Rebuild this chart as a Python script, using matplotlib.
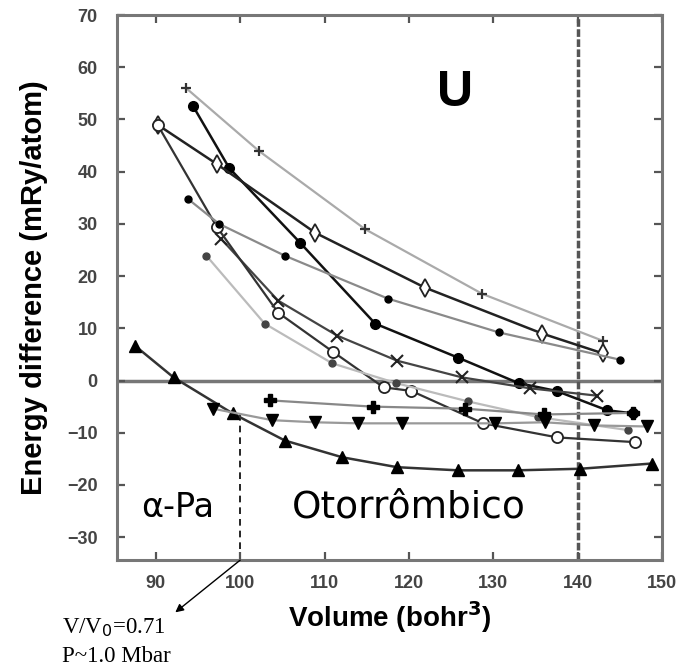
import matplotlib
matplotlib.use("Agg")
import matplotlib.pyplot as plt

# volume (bohr^3) / energy difference (mRy/atom)
plus_v = [93.6, 102.2, 114.8, 128.7, 143.0]
plus_e = [56.0, 44.0, 29.0, 16.6, 7.6]

dot_v = [94.4, 98.7, 107.1, 116.0, 125.8, 133.0, 137.5, 143.5, 146.6]
dot_e = [52.6, 40.7, 26.4, 10.9, 4.4, -0.5, -2.0, -5.7, -6.3]

diam_v = [90.2, 97.2, 108.9, 121.9, 135.8, 143.0]
diam_e = [49.0, 41.5, 28.3, 17.8, 9.0, 5.2]

cross_v = [97.7, 104.5, 111.5, 118.6, 126.3, 134.4, 142.3]
cross_e = [27.2, 15.3, 8.6, 3.8, 0.6, -1.5, -2.9]

ring_v = [90.2, 97.2, 104.5, 111.0, 117.0, 120.3, 128.8, 137.6, 146.8]
ring_e = [49.0, 29.5, 13.0, 5.5, -1.3, -2.0, -8.2, -10.9, -11.8]

small_v = [93.8, 97.5, 105.3, 117.5, 130.7, 145.0]
small_e = [34.8, 30.0, 23.9, 15.7, 9.2, 4.0]

grey_v = [96.0, 102.9, 110.9, 118.5, 127.0, 135.3, 146.0]
grey_e = [23.9, 10.9, 3.3, -0.5, -4.0, -7.0, -9.5]

tri_v = [87.5, 92.1, 99.1, 105.3, 112.1, 118.6, 125.8, 132.9, 140.3, 148.8]
tri_e = [6.7, 0.6, -6.3, -11.5, -14.7, -16.6, -17.2, -17.2, -16.9, -15.9]

heart_v = [96.8, 103.8, 108.9, 114.0, 119.2, 130.2, 136.1, 142.0, 148.2]
heart_e = [-5.4, -7.6, -8.0, -8.2, -8.2, -8.2, -8.0, -8.6, -8.8]

club_v = [103.5, 115.7, 126.7, 136.0, 146.6]
club_e = [-3.8, -5.0, -5.4, -6.5, -6.2]

xticks = [90, 100, 110, 120, 130, 140, 150]
yticks = [-30, -20, -10, 0, 10, 20, 30, 40, 50, 60, 70]

fig = plt.figure(figsize=(6.82, 6.70), dpi=100)
ax = fig.add_axes([0.1716, 0.164, 0.799, 0.8135])

ax.axhline(0, color="#777777", lw=2.5, zorder=1)
ax.axvline(140, color="#555555", lw=2.5, dashes=(2.2, 0.7), zorder=1)
ax.plot([100, 100], [-6.5, -34.4], color="black", lw=1.2, dashes=(4, 3), zorder=1)

ax.plot(plus_v, plus_e, color="#aaaaaa", lw=1.6, marker="+", ms=7, mew=1.6, mec="#333333")
ax.plot(dot_v, dot_e, color="#111111", lw=1.8, marker="o", ms=7, mfc="black", mec="black")
ax.plot(diam_v, diam_e, color="#222222", lw=1.8, marker="d", ms=9, mfc="white", mec="#222222", mew=1.3)
ax.plot(cross_v, cross_e, color="#444444", lw=1.6, marker="x", ms=8, mew=1.5, mec="#222222")
ax.plot(ring_v, ring_e, color="#333333", lw=1.6, marker="o", ms=8, mfc="white", mec="#222222", mew=1.3)
ax.plot(small_v, small_e, color="#8a8a8a", lw=1.6, marker="o", ms=5, mfc="black", mec="black")
ax.plot(grey_v, grey_e, color="#bbbbbb", lw=1.6, marker="o", ms=5, mfc="#444444", mec="#444444")
ax.plot(tri_v, tri_e, color="#333333", lw=1.8, marker="^", ms=8, mfc="black", mec="black")
ax.plot(heart_v, heart_e, color="#999999", lw=1.6, marker="v", ms=8, mfc="black", mec="black")
ax.plot(club_v, club_e, color="#888888", lw=1.6, marker="P", ms=8, mfc="black", mec="black")

ax.set_xlim(85.4, 150)
ax.set_ylim(-34.4, 70)
ax.set_xticks(xticks)
ax.set_yticks(yticks)
ax.tick_params(direction="in", length=6, width=1.6, color="#555555", top=True, right=True,
               labelsize=13, labelcolor="#444444")
ax.tick_params(axis="x", pad=11)
ax.tick_params(axis="y", pad=14)
for lab in ax.get_xticklabels() + ax.get_yticklabels():
    lab.set_fontweight("bold")
    lab.set_family("Liberation Sans")
for sp in ax.spines.values():
    sp.set_color("#777777")
    sp.set_linewidth(2.2)

ax.set_xlabel("Volume (bohr$^\\mathbf{3}$)", fontsize=20, fontweight="bold", family="Liberation Sans", labelpad=5)
ax.set_ylabel("Energy difference (mRy/atom)", fontsize=21, fontweight="bold", family="Liberation Sans", labelpad=14)

ax.text(125.5, 55.0, "U", fontsize=36, fontweight="bold", family="Liberation Sans", ha="center", va="center")
ax.text(92.6, -24.3, "\u03b1-Pa", fontsize=24, family="DejaVu Sans", ha="center", va="center")
ax.text(120.0, -24.3, "Otorrômbico", fontsize=27, family="DejaVu Sans", ha="center", va="center")

ax.annotate("", xy=(0.257, 0.086), xycoords="figure fraction", xytext=(100, -34.4), textcoords="data",
            arrowprops=dict(arrowstyle="-|>", lw=1.0, color="black", mutation_scale=12, shrinkA=0, shrinkB=0),
            annotation_clip=False)
fig.text(62 / 682, 1 - 628 / 670, "V/V$_0$=0.71", fontsize=16.5, family="Liberation Serif", va="center")
fig.text(62 / 682, 1 - 656 / 670, "P~1.0 Mbar", fontsize=16.5, family="Liberation Serif", va="center")

fig.savefig("out.png", dpi=100)
